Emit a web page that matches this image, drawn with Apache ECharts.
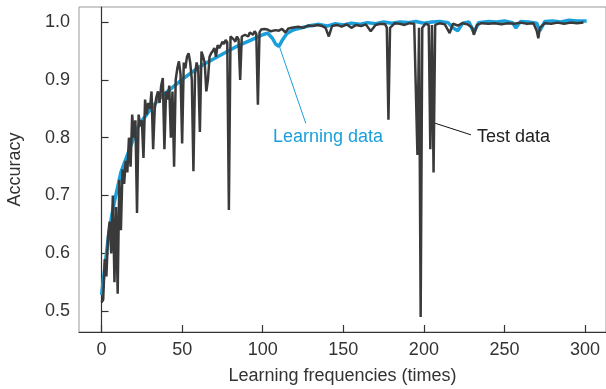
<!DOCTYPE html>
<html>
<head>
<meta charset="utf-8">
<script src="https://cdn.jsdelivr.net/npm/echarts@6/dist/echarts.min.js"></script>
<style>
  html, body { margin: 0; padding: 0; background: #fff; }
  #chart { width: 606px; height: 389px; }
</style>
</head>
<body>
<div id="chart"></div>
<script>
// learning data (blue)
const learnIter = [0, 2, 4, 6, 8, 10, 12, 14, 16, 18, 20, 22, 24, 26, 28, 30, 33, 36, 40, 44, 48, 52, 56, 60, 64, 68, 72, 76, 80, 84, 88, 92, 96, 100, 103, 106, 108, 110, 112, 115, 118, 121, 124, 127, 130, 135, 140, 145, 150, 155, 160, 165, 170, 175, 180, 185, 190, 195, 200, 205, 210, 215, 218, 221, 224, 228, 231, 234, 240, 245, 250, 255, 257, 260, 265, 270, 272, 275, 280, 285, 290, 295, 301]
const learnAcc = [0.528, 0.575, 0.623, 0.66, 0.69, 0.715, 0.74, 0.755, 0.77, 0.785, 0.8, 0.815, 0.825, 0.833, 0.84, 0.848, 0.858, 0.868, 0.878, 0.887, 0.896, 0.905, 0.913, 0.921, 0.928, 0.934, 0.94, 0.946, 0.952, 0.958, 0.963, 0.968, 0.973, 0.978, 0.981, 0.972, 0.962, 0.958, 0.968, 0.98, 0.985, 0.988, 0.99, 0.992, 0.994, 0.996, 0.993, 0.997, 0.995, 0.998, 0.996, 0.999, 0.997, 1.0, 0.998, 1.0, 0.999, 1.001, 0.998, 1.0, 1.001, 0.999, 0.99, 0.985, 0.998, 1.0, 0.982, 0.999, 1.001, 1.0, 1.002, 0.999, 0.99, 1.001, 1.0, 0.998, 0.985, 1.001, 1.002, 1.0, 1.003, 1.002, 1.002]

// test data (dark)
const testIter = [0, 1, 2, 3, 4, 5, 6, 7, 8, 9, 10, 11, 12, 13, 14, 15, 16, 17, 18, 19, 20, 21, 22, 23, 24, 25, 26, 27, 28, 29, 30, 31, 32, 33, 34, 35, 36, 37, 38, 39, 40, 41, 42, 43, 44, 45, 46, 47, 48, 49, 50, 51, 52, 53, 54, 55, 56, 57, 58, 59, 60, 61, 62, 63, 64, 65, 66, 67, 68, 69, 70, 71, 72, 73, 74, 75, 76, 77, 78, 79, 80, 81, 82, 83, 84, 85, 86, 87, 88, 89, 90, 91, 92, 93, 94, 95, 96, 97, 98, 99, 100, 101, 102, 103, 105, 108, 110, 112, 114, 116, 118, 120, 122, 125, 128, 131, 134, 137, 139, 141, 143, 146, 149, 152, 155, 158, 161, 164, 167, 170, 173, 176, 177, 178, 179, 182, 185, 188, 191, 194, 196, 197, 198, 199, 201, 203, 204, 205, 206, 207, 210, 213, 216, 218, 221, 224, 227, 230, 231, 233, 236, 240, 244, 248, 252, 256, 260, 264, 268, 270, 271, 272, 275, 279, 283, 287, 291, 295, 299]
const testAcc = [0.515, 0.52, 0.59, 0.56, 0.63, 0.655, 0.6, 0.7, 0.55, 0.68, 0.53, 0.727, 0.64, 0.745, 0.72, 0.76, 0.74, 0.8, 0.75, 0.84, 0.8, 0.83, 0.67, 0.84, 0.82, 0.83, 0.765, 0.866, 0.84, 0.86, 0.85, 0.88, 0.78, 0.85, 0.87, 0.88, 0.86, 0.89, 0.903, 0.78, 0.88, 0.866, 0.89, 0.8, 0.88, 0.75, 0.9, 0.92, 0.932, 0.91, 0.79, 0.93, 0.92, 0.94, 0.946, 0.93, 0.9, 0.742, 0.91, 0.93, 0.917, 0.81, 0.949, 0.94, 0.93, 0.88, 0.9, 0.94, 0.946, 0.95, 0.955, 0.94, 0.96, 0.955, 0.96, 0.966, 0.962, 0.969, 0.965, 0.675, 0.975, 0.978, 0.97, 0.966, 0.975, 0.97, 0.9, 0.975, 0.972, 0.978, 0.98, 0.975, 0.982, 0.981, 0.978, 0.984, 0.98, 0.857, 0.982, 0.987, 0.985, 0.988, 0.986, 0.987, 0.984, 0.986, 0.985, 0.988, 0.982, 0.989, 0.99, 0.991, 0.992, 0.99, 0.994, 0.993, 0.995, 0.993, 0.99, 0.975, 0.993, 0.995, 0.992, 0.996, 0.99, 0.995, 0.993, 0.996, 0.984, 0.995, 0.997, 0.996, 0.99, 0.831, 0.99, 0.998, 0.997, 0.995, 0.998, 0.997, 0.77, 0.99, 0.49, 0.99, 0.997, 0.995, 0.78, 0.995, 0.74, 0.995, 0.998, 0.996, 0.981, 0.997, 0.994, 0.998, 0.996, 0.99, 0.978, 0.995, 0.998, 0.997, 0.998, 0.996, 0.998, 0.997, 0.999, 0.997, 0.998, 0.985, 0.972, 0.99, 0.998, 0.997, 0.999, 0.997, 0.999, 0.998, 0.999]

const xTicks = [0, 50, 100, 150, 200, 250, 300]
const yTicks = [0.5, 0.6, 0.7, 0.8, 0.9, 1.0]

// annotation anchors in data units: text position, arrow start, arrow tip
const learnNote = { text: 'Learning data', at: [140.5, 0.801], from: [126.7, 0.825], to: [110.3, 0.958] }
const testNote = { text: 'Test data', at: [233, 0.802], from: [229.2, 0.805], to: [207, 0.825] }

const blue = '#1b9fdb'
const dark = '#3a3a3a'
const font = '"Liberation Sans", Arial, sans-serif'

const zip = (xs, ys) => xs.map((x, i) => [x, ys[i]])

const chart = echarts.init(document.getElementById('chart'))

const axisCommon = {
  type: 'value',
  axisLine: { show: true, lineStyle: { color: '#333', width: 1.2 } },
  axisTick: { show: true, inside: true, length: 7, lineStyle: { color: '#333', width: 1.2 } },
  splitLine: { show: false },
  nameLocation: 'middle',
  nameTextStyle: { fontSize: 18, color: '#333', fontFamily: font },
}

chart.setOption({
  animation: false,
  grid: {
    left: 79, right: 0, top: 7, bottom: 57,
    outerBoundsMode: 'none',
    show: true, borderColor: '#999', borderWidth: 1,
  },
  xAxis: {
    ...axisCommon,
    min: -14,
    max: 313,
    name: 'Learning frequencies (times)',
    nameGap: 35,
    axisTick: { ...axisCommon.axisTick, customValues: xTicks },
    axisLabel: { customValues: xTicks, fontSize: 18, color: '#333', fontFamily: font, margin: 9 },
  },
  yAxis: {
    ...axisCommon,
    min: 0.464,
    max: 1.026,
    name: 'Accuracy',
    nameGap: 55,
    axisTick: { ...axisCommon.axisTick, customValues: yTicks },
    axisLabel: {
      customValues: yTicks, fontSize: 18, color: '#333', fontFamily: font, margin: 9,
      formatter: (v) => v.toFixed(1),
    },
  },
  series: [
    {
      name: 'Learning data',
      type: 'line',
      data: zip(learnIter, learnAcc),
      showSymbol: false,
      lineStyle: { color: blue, width: 3.5 },
      itemStyle: { color: blue },
      markLine: {
        silent: true,
        symbol: ['none', 'arrow'],
        symbolSize: [0, 10],
        label: { show: false },
        lineStyle: { color: blue, width: 1, type: 'solid' },
        data: [[{ coord: learnNote.from }, { coord: learnNote.to }]],
      },
    },
    {
      name: 'Test data',
      type: 'line',
      data: zip(testIter, testAcc),
      showSymbol: false,
      lineStyle: { color: dark, width: 2.5 },
      itemStyle: { color: dark },
      markLine: {
        silent: true,
        symbol: ['none', 'arrow'],
        symbolSize: [0, 10],
        label: { show: false },
        lineStyle: { color: '#111', width: 1, type: 'solid' },
        data: [[{ coord: testNote.from }, { coord: testNote.to }]],
      },
    },
  ],
})

const toPx = (p) => chart.convertToPixel({ gridIndex: 0 }, p)
const lp = toPx(learnNote.at)
const tp = toPx(testNote.at)

chart.setOption({
  graphic: [
    {
      type: 'text', x: lp[0], y: lp[1],
      style: { text: learnNote.text, fill: blue, font: '18px ' + font, textAlign: 'center', textVerticalAlign: 'middle' },
    },
    {
      type: 'text', x: tp[0], y: tp[1],
      style: { text: testNote.text, fill: '#222', font: '18px ' + font, textAlign: 'left', textVerticalAlign: 'middle' },
    },
  ],
})
</script>
</body>
</html>
